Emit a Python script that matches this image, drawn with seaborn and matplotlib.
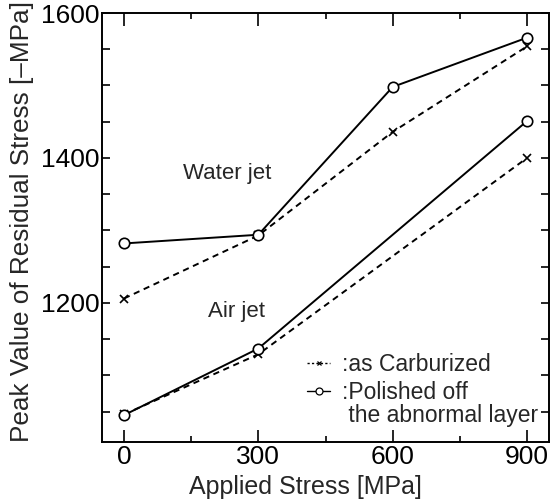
import matplotlib
matplotlib.use("Agg")
import matplotlib.pyplot as plt
from matplotlib.lines import Line2D
from matplotlib.ticker import MultipleLocator, FixedLocator
import seaborn as sns
import pandas as pd

# ---- data ----
applied_stress = [0, 300, 600, 900]
water_polished = [1282, 1294, 1498, 1566]
water_carburized = [1206, 1293, 1436, 1554]
air_polished = [1045, 1137, None, 1451]
air_carburized = [1046, 1129, None, 1400]
x_ticks = [0, 300, 600, 900]
y_ticks = [1200, 1400, 1600]
x_label = "Applied Stress [MPa]"
y_label = "Peak Value of Residual Stress [\u2013MPa]"
legend_carb = ":as Carburized"
legend_pol = [":Polished off", " the abnormal layer"]

sns.set_style("ticks")
plt.rcParams["font.family"] = ["Liberation Sans", "DejaVu Sans"]

fig = plt.figure(figsize=(5.58, 5.01), dpi=100)
ax = fig.add_axes([0.1828, 0.1178, 0.8011, 0.8562])

def series(vals):
    return pd.DataFrame({"x": applied_stress, "y": vals}).dropna()

dash = (0, (3.2, 2.4))
common = dict(color="black", linewidth=1.4, ax=ax, legend=False)
cross = dict(marker="x", markersize=5.5, markeredgewidth=1.2,
             markeredgecolor="black", markerfacecolor="black")
circ = dict(marker="o", markersize=7.5, markerfacecolor="white",
            markeredgecolor="black", markeredgewidth=1.2)
sns.lineplot(data=series(water_carburized), x="x", y="y", linestyle=dash, **cross, **common)
sns.lineplot(data=series(air_carburized), x="x", y="y", linestyle=dash, **cross, **common)
sns.lineplot(data=series(water_polished), x="x", y="y", linestyle="-", **circ, **common)
sns.lineplot(data=series(air_polished), x="x", y="y", linestyle="-", **circ, **common)

ax.set_xlim(-49, 949)
ax.set_ylim(1008, 1600)
ax.xaxis.set_major_locator(FixedLocator(x_ticks))
ax.xaxis.set_minor_locator(MultipleLocator(150))
ax.yaxis.set_major_locator(FixedLocator(y_ticks))
ax.yaxis.set_minor_locator(MultipleLocator(50))

ax.tick_params(axis="both", which="both", direction="in", top=True, right=True,
               width=1.2, colors="black", labelsize=19)
ax.tick_params(axis="x", which="major", length=9, pad=2)
ax.tick_params(axis="x", which="minor", length=4.5)
ax.tick_params(axis="y", which="both", length=5.5, pad=2)
for s in ax.spines.values():
    s.set_linewidth(1.4)
    s.set_color("black")

ax.set_xlabel(x_label, fontsize=18)
ax.xaxis.set_label_coords(0.454, -0.077)
ax.set_ylabel(y_label, fontsize=18.8)
ax.yaxis.set_label_coords(-0.152, 0.513)

ax.text(230, 1379, "Water jet", fontsize=16, ha="center", va="center")
ax.text(252, 1188, "Air jet", fontsize=16, ha="center", va="center")

h_carb = Line2D([], [], color="black", linestyle=(0, (1.6, 1.6)), linewidth=1.0,
                marker="x", markersize=3.5, markeredgewidth=0.9)
h_pol = Line2D([], [], color="black", linestyle="-", linewidth=1.0,
               marker="o", markersize=5, markerfacecolor="white", markeredgewidth=0.9)
h_blank = Line2D([], [], color="none")
leg_kw = dict(loc="upper left", frameon=False, fontsize=16.5, handlelength=1.0,
              handletextpad=0.5, borderaxespad=0, borderpad=0)
leg1 = ax.legend([h_carb], [legend_carb], bbox_to_anchor=(0.459, 0.207), **leg_kw)
ax.add_artist(leg1)
ax.legend([h_pol, h_blank], legend_pol, bbox_to_anchor=(0.459, 0.141),
          labelspacing=0.0, **leg_kw)

fig.savefig("out.png", dpi=100)
